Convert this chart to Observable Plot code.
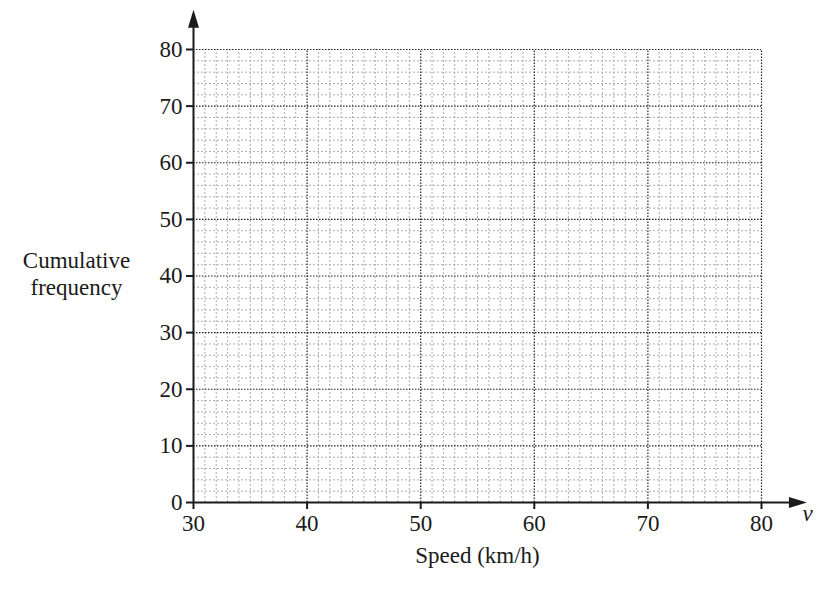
<!DOCTYPE html>
<html>
<head>
<meta charset="utf-8">
<script src="https://cdn.jsdelivr.net/npm/d3@7"></script>
<script src="https://cdn.jsdelivr.net/npm/@observablehq/plot@0.6"></script>
<style>
  html, body { margin: 0; padding: 0; background: #fff; }
</style>
</head>
<body>
<div id="chart"></div>
<script>
// Axis domains and tick labels
const xDomain = [30, 80];
const yDomain = [0, 80];
const xTicks = [30, 40, 50, 60, 70, 80];
const yTicks = [0, 10, 20, 30, 40, 50, 60, 70, 80];
const xMinorStep = 1;
const yMinorStep = 2;
const xArrowEnd = 84;   // where the horizontal axis arrow tip sits (data units)
const yArrowEnd = 87;   // where the vertical axis arrow tip sits (data units)
const xLabel = "Speed (km/h)";
const yLabel = "Cumulative\nfrequency";
const varLabel = "v";

const xMajor = xTicks.slice(1);
const yMajor = yTicks.slice(1);
const xMinor = d3.range(xDomain[0] + xMinorStep, xDomain[1], xMinorStep).filter(v => v % 10 !== 0);
const yMinor = d3.range(yDomain[0] + yMinorStep, yDomain[1], yMinorStep).filter(v => v % 10 !== 0);

const arrowHead = {
  draw(context) {
    context.moveTo(0, 0);
    context.lineTo(5.5, 18);
    context.lineTo(-5.5, 18);
    context.closePath();
  }
};

const font = "Liberation Serif, Times New Roman, serif";
const fs = 23;

const chart = Plot.plot({
  width: 817,
  height: 590,
  marginLeft: 193,
  marginRight: 56,
  marginTop: 49,
  marginBottom: 88,
  style: { fontFamily: font, fontSize: fs + "px", color: "#1a1a1a", background: "#fff" },
  x: { domain: xDomain },
  y: { domain: yDomain },
  marks: [
    // minor grid
    Plot.ruleX(xMinor, { y1: yDomain[0], y2: yDomain[1], stroke: "#adadad", strokeWidth: 1, strokeDasharray: "2,2" }),
    Plot.ruleY(yMinor, { x1: xDomain[0], x2: xDomain[1], stroke: "#adadad", strokeWidth: 1, strokeDasharray: "2,2" }),
    // major grid
    Plot.ruleX(xMajor, { y1: yDomain[0], y2: yDomain[1], stroke: "#222", strokeWidth: 1.2, strokeDasharray: "1.5,1.5" }),
    Plot.ruleY(yMajor, { x1: xDomain[0], x2: xDomain[1], stroke: "#222", strokeWidth: 1.2, strokeDasharray: "1.5,1.5" }),
    // axis lines
    Plot.ruleY([yDomain[0]], { x1: xDomain[0], x2: xArrowEnd - 1, stroke: "#1a1a1a", strokeWidth: 2 }),
    Plot.ruleX([xDomain[0]], { y1: yDomain[0], y2: yArrowEnd - 2, stroke: "#1a1a1a", strokeWidth: 2 }),
    // arrow heads
    Plot.dot([[xArrowEnd, yDomain[0]]], { x: d => d[0], y: d => d[1], symbol: arrowHead, fill: "#1a1a1a", stroke: "none", rotate: 90 }),
    Plot.dot([[xDomain[0], yArrowEnd]], { x: d => d[0], y: d => d[1], symbol: arrowHead, fill: "#1a1a1a", stroke: "none" }),
    // axes
    Plot.axisX({ ticks: xTicks, tickSize: 7, tickPadding: 5, strokeWidth: 2, tickFormat: d => String(d), label: null, fontSize: fs }),
    Plot.axisY({ ticks: yTicks, tickSize: 7, tickPadding: 4, strokeWidth: 2, tickFormat: d => String(d), label: null, fontSize: fs }),
    // labels
    Plot.text([xLabel], { text: d => d, frameAnchor: "bottom", dy: 60, fontSize: fs, fill: "#1a1a1a" }),
    Plot.text([yLabel], { text: d => d, frameAnchor: "left", textAnchor: "middle", dx: -117, dy: -3, lineHeight: 1.15, fontSize: fs, fill: "#1a1a1a" }),
    Plot.text([varLabel], { text: d => d, frameAnchor: "bottom-right", textAnchor: "middle", dx: 46, dy: 18, fontSize: fs, fontStyle: "italic", fill: "#1a1a1a" })
  ]
});

document.getElementById("chart").appendChild(chart);
</script>
</body>
</html>
